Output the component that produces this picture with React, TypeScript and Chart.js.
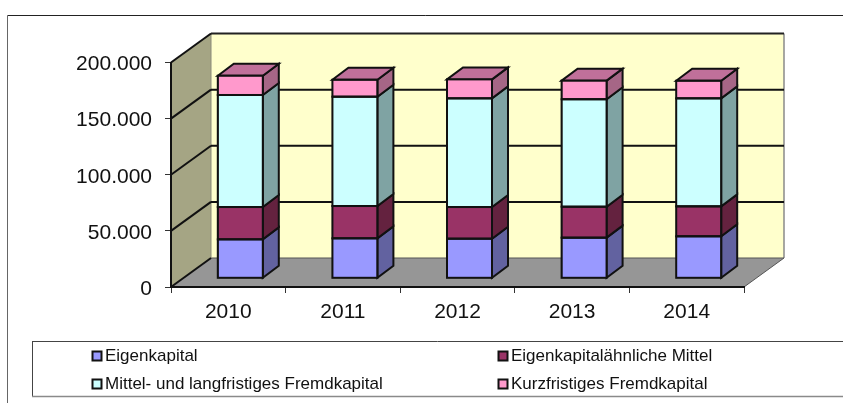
import { useEffect, useRef } from "react";
import { Chart, registerables } from "chart.js";

Chart.register(...registerables);

const years = ["2010", "2011", "2012", "2013", "2014"];
const eigenkapital = [34700, 35600, 35300, 36200, 37400];
const eigenkapitalaehnlich = [28800, 28800, 28200, 27600, 26700];
const mittelLangfristig = [99800, 97400, 96800, 95700, 96200];
const kurzfristig = [17200, 15100, 16900, 16600, 15700];

const names = [
  "Eigenkapital",
  "Eigenkapitalähnliche Mittel",
  "Mittel- und langfristiges Fremdkapital",
  "Kurzfristiges Fremdkapital",
];
const fills = ["#9999FF", "#993366", "#CCFFFF", "#FF99CC"];
const sideFills = ["#6262A0", "#64223F", "#7FA3A3", "#A66686"];
const topFill = "#C0709A";

const FONT = '"Liberation Sans", Arial, sans-serif';
const DEPTH_X = 40;
const DEPTH_Y = 29;
const BAR_SHIFT_X = 12;
const BAR_SHIFT_Y = 8.7;
const BAR_SIDE_X = 16;
const BAR_SIDE_Y = 12;

function poly(ctx: CanvasRenderingContext2D, pts: number[][], fill: string | null, stroke: string | null, lw = 2) {
  ctx.beginPath();
  pts.forEach((p, i) => (i ? ctx.lineTo(p[0], p[1]) : ctx.moveTo(p[0], p[1])));
  ctx.closePath();
  if (fill) {
    ctx.fillStyle = fill;
    ctx.fill();
  }
  if (stroke) {
    ctx.strokeStyle = stroke;
    ctx.lineWidth = lw;
    ctx.lineJoin = "miter";
    ctx.stroke();
  }
}

function seg(ctx: CanvasRenderingContext2D, x0: number, y0: number, x1: number, y1: number, color: string, lw: number) {
  ctx.beginPath();
  ctx.moveTo(x0, y0);
  ctx.lineTo(x1, y1);
  ctx.strokeStyle = color;
  ctx.lineWidth = lw;
  ctx.stroke();
}

const scenePlugin = {
  id: "scene3d",
  beforeDraw(chart: any) {
    const ctx: CanvasRenderingContext2D = chart.ctx;
    const { left, right, top, bottom } = chart.chartArea;
    const y = chart.scales.y;
    ctx.save();
    ctx.fillStyle = "#FFFFFF";
    ctx.fillRect(0, 0, chart.width, chart.height);

    // outer frame, cut by the picture's edge
    seg(ctx, 7.5, 15.5, chart.width, 15.5, "#222222", 1);
    seg(ctx, 7.5, 15.5, 7.5, chart.height, "#666666", 1);

    // back wall, left wall, floor
    const bl = left + DEPTH_X;
    const br = right + DEPTH_X;
    const bt = top - DEPTH_Y;
    const bb = bottom - DEPTH_Y;
    poly(ctx, [[bl, bt], [br, bt], [br, bb], [bl, bb]], "#FFFFCC", null);
    poly(ctx, [[left, top], [bl, bt], [bl, bb], [left, bottom]], "#A5A584", null);
    poly(ctx, [[left, bottom], [bl, bb], [br, bb], [right, bottom]], "#969696", null);

    seg(ctx, br, bt, br, bb, "#8A8A8A", 1.5);
    seg(ctx, bl, bb, br, bb, "#555555", 1);
    seg(ctx, bl, bt, bl, bb, "#8A8A7A", 1);
    seg(ctx, right, bottom, br, bb, "#555555", 1);
    seg(ctx, bl, bt, br, bt, "#222222", 2);
    seg(ctx, left, top, bl, bt, "#111111", 2);
    seg(ctx, left, bottom, bl, bb, "#111111", 2);

    // grid lines folded over left wall and back wall
    for (const t of y.ticks) {
      if (t.value === 0 || t.value === y.max) continue;
      const py = y.getPixelForValue(t.value);
      seg(ctx, left, py, bl, py - DEPTH_Y, "#111111", 2);
      seg(ctx, bl, py - DEPTH_Y, br, py - DEPTH_Y, "#111111", 2);
    }
    ctx.restore();
  },
  beforeDatasetsDraw(chart: any) {
    chart.ctx.save();
    chart.ctx.translate(BAR_SHIFT_X, -BAR_SHIFT_Y);
    // sides and tops of the bars go first so the native fronts lie on top
    const ctx: CanvasRenderingContext2D = chart.ctx;
    chart.data.datasets.forEach((_: any, i: number) => {
      chart.getDatasetMeta(i).data.forEach((bar: any) => {
        const r = bar.x + bar.width / 2;
        const l = bar.x - bar.width / 2;
        poly(
          ctx,
          [[r, bar.y], [r + BAR_SIDE_X, bar.y - BAR_SIDE_Y], [r + BAR_SIDE_X, bar.base - BAR_SIDE_Y], [r, bar.base]],
          sideFills[i],
          "#111111",
        );
        if (i === chart.data.datasets.length - 1) {
          poly(
            ctx,
            [[l, bar.y], [l + BAR_SIDE_X, bar.y - BAR_SIDE_Y], [r + BAR_SIDE_X, bar.y - BAR_SIDE_Y], [r, bar.y]],
            topFill,
            "#111111",
          );
        }
      });
    });
  },
  afterDatasetsDraw(chart: any) {
    const ctx: CanvasRenderingContext2D = chart.ctx;
    // even outline centred on every bar edge
    chart.data.datasets.forEach((_: any, i: number) => {
      chart.getDatasetMeta(i).data.forEach((bar: any) => {
        ctx.strokeStyle = "#111111";
        ctx.lineWidth = 2;
        ctx.strokeRect(bar.x - bar.width / 2, bar.y, bar.width, bar.base - bar.y);
      });
    });
    ctx.restore();
  },
  afterDraw(chart: any) {
    const ctx: CanvasRenderingContext2D = chart.ctx;
    ctx.save();
    // legend box, open towards the right edge
    seg(ctx, 32, 341.5, chart.width, 341.5, "#444444", 1);
    seg(ctx, 32.5, 341, 32.5, 397, "#444444", 1);
    seg(ctx, 32, 396.5, chart.width, 396.5, "#8A8A8A", 1.5);

    const colX = [91.5, 497.5];
    const rowY = [355.5, 383.5];
    ctx.font = `17px ${FONT}`;
    ctx.textBaseline = "middle";
    ctx.textAlign = "left";
    chart.data.datasets.forEach((ds: any, i: number) => {
      const x = colX[i % 2];
      const yy = rowY[Math.floor(i / 2)];
      ctx.fillStyle = ds.backgroundColor;
      ctx.strokeStyle = "#111111";
      ctx.lineWidth = 2;
      ctx.fillRect(x + 1, yy - 4, 9, 9);
      ctx.strokeRect(x + 1, yy - 4, 9, 9);
      ctx.fillStyle = "#111111";
      ctx.fillText(ds.label, x + 13.5, yy + 0.5);
    });
    ctx.restore();
  },
};

export default function App() {
  const ref = useRef<HTMLCanvasElement>(null);
  useEffect(() => {
    const series = [eigenkapital, eigenkapitalaehnlich, mittelLangfristig, kurzfristig];
    const chart = new Chart(ref.current!, {
      type: "bar",
      data: {
        labels: years,
        datasets: series.map((data, i) => ({
          label: names[i],
          data,
          backgroundColor: fills[i],
          borderColor: "#111111",
          borderWidth: 1,
          borderSkipped: false,
          barThickness: 45,
          clip: false as any,
        })),
      },
      plugins: [scenePlugin],
      options: {
        responsive: false,
        animation: false,
        layout: { padding: { left: 0, top: 62.5, right: 99, bottom: 0 } },
        plugins: { legend: { display: false }, tooltip: { enabled: false } },
        scales: {
          x: {
            stacked: true,
            afterFit: (s: any) => {
              s.height = 116;
            },
            grid: { drawOnChartArea: false, tickLength: 6, color: "#333333", lineWidth: 1 },
            border: { color: "#111111", width: 2 },
            ticks: { color: "#111111", padding: 7, maxRotation: 0, font: { family: FONT, size: 21 } },
          },
          y: {
            stacked: true,
            min: 0,
            max: 200000,
            afterFit: (s: any) => {
              s.width = 171;
            },
            grid: { drawOnChartArea: false, tickLength: 6, color: "#333333", lineWidth: 1 },
            border: { color: "#111111", width: 2 },
            ticks: {
              stepSize: 50000,
              color: "#111111",
              padding: 13,
              labelOffset: 2,
              font: { family: FONT, size: 21 },
              callback: (v: any) => Number(v).toLocaleString("de-DE"),
            },
          },
        },
      },
    });
    return () => chart.destroy();
  }, []);
  return (
    <div style={{ position: "fixed", left: 0, top: 0, width: 843, height: 403 }}>
      <canvas ref={ref} width={843} height={403} style={{ display: "block", filter: "blur(0.45px)" }} />
    </div>
  );
}
